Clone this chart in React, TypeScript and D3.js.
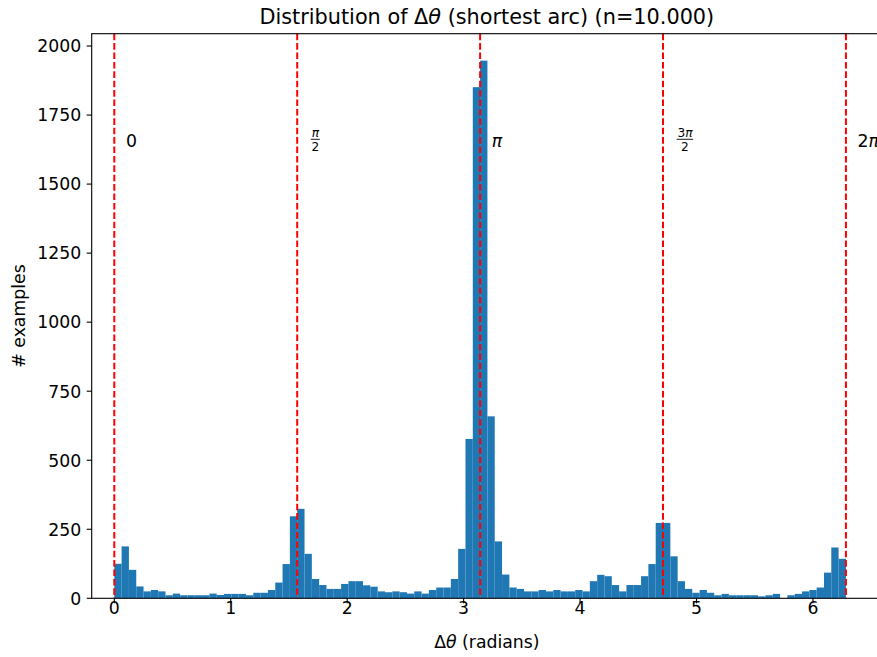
import React from "react";
import * as d3 from "d3";

const width = 877;
const height = 657;

// axes box in pixels (the right spine falls just outside the picture)
const axLeft = 91.7;
const axRight = 882;
const axTop = 33.7;
const axBottom = 598.3;

const font = "DejaVu Sans, sans-serif";
const tickSize = 17.3;
const titleSize = 20.8;
const barColor = "#1f77b4";
const lineColor = "red";

// histogram: 100 bins over [0, 2π]
const binStart = 0;
const binEnd = 2 * Math.PI;
const binCounts = [
  125, 188, 103, 43, 25, 30, 25, 11, 17, 11,
  11, 11, 11, 17, 12, 16, 16, 16, 11, 20,
  20, 30, 57, 124, 297, 324, 161, 70, 48, 34,
  34, 52, 62, 62, 47, 42, 25, 22, 25, 22,
  17, 25, 17, 30, 39, 39, 70, 179, 577, 1851,
  1947, 659, 206, 86, 39, 34, 25, 25, 30, 25,
  30, 25, 25, 30, 25, 62, 85, 80, 48, 25,
  48, 48, 80, 124, 273, 273, 152, 62, 34, 20,
  30, 20, 11, 16, 11, 11, 11, 11, 7, 11,
  16, 0, 11, 16, 25, 30, 39, 93, 184, 143,
];

const xDomain = [-0.194, 6.593];
const yDomain = [0, 2044.6];
const xTicks = [0, 1, 2, 3, 4, 5, 6];
const yTicks = [0, 250, 500, 750, 1000, 1250, 1500, 1750, 2000];

// dashed reference lines and their labels
const refLines = [0, Math.PI / 2, Math.PI, (3 * Math.PI) / 2, 2 * Math.PI];
type Part = [string, boolean]; // text, italic
type RefLabel = { main?: Part[]; num?: Part[]; den?: Part[] };
const refLabels: RefLabel[] = [
  { main: [["0", false]] },
  { num: [["π", true]], den: [["2", false]] },
  { main: [["π", true]] },
  { num: [["3", false], ["π", true]], den: [["2", false]] },
  { main: [["2", false], ["π", true]] },
];
const labelOffsetX = 0.1;
const labelY = 1655;

const title = "Distribution of ";
const titleEnd = " (shortest arc) (n=10.000)";
const xLabel = " (radians)";
const yLabel = "# examples";

const parts = (p: Part[]) =>
  p.map(([t, it], i) => (
    <tspan key={i} fontStyle={it ? "italic" : "normal"}>
      {t}
    </tspan>
  ));

const Label = ({ x, cy, label }: { x: number; cy: number; label: RefLabel }) => {
  if (label.main) {
    return (
      <text x={x} y={cy + 5.7} fontSize={tickSize} fontFamily={font} fill="black">
        {parts(label.main)}
      </text>
    );
  }
  const fs = tickSize * 0.7;
  const chars = Math.max(
    label.num!.reduce((s, p) => s + p[0].length, 0),
    label.den!.reduce((s, p) => s + p[0].length, 0)
  );
  const w = chars * fs * 0.62 + 1.5;
  const cx = x + 2 + w / 2;
  return (
    <g fontFamily={font} fontSize={fs} fill="black">
      <text x={cx} y={cy - 4.6} textAnchor="middle">
        {parts(label.num!)}
      </text>
      <line x1={cx - w / 2} x2={cx + w / 2} y1={cy - 2} y2={cy - 2} stroke="black" strokeWidth={0.9} />
      <text x={cx} y={cy + 9.4} textAnchor="middle">
        {parts(label.den!)}
      </text>
    </g>
  );
};

export default function App() {
  const xScale = d3.scaleLinear().domain(xDomain).range([axLeft, axRight]);
  const yScale = d3.scaleLinear().domain(yDomain).range([axBottom, axTop]);
  const binW = (binEnd - binStart) / binCounts.length;
  const cx = (axLeft + axRight) / 2;

  return (
    <svg
      width={width}
      height={height}
      style={{ position: "absolute", left: 0, top: 0, background: "white" }}
    >
      <defs>
        <clipPath id="ax">
          <rect x={axLeft} y={axTop} width={axRight - axLeft} height={axBottom - axTop} />
        </clipPath>
      </defs>

      <g clipPath="url(#ax)">
        {binCounts.map((c, i) => {
          const x0 = xScale(binStart + i * binW);
          const x1 = xScale(binStart + (i + 1) * binW);
          return (
            <rect
              key={i}
              x={x0}
              width={x1 - x0}
              y={yScale(c)}
              height={axBottom - yScale(c)}
              fill={barColor}
            />
          );
        })}
        {refLines.map((v, i) => (
          <line
            key={i}
            x1={xScale(v)}
            x2={xScale(v)}
            y1={axTop}
            y2={axBottom}
            stroke={lineColor}
            strokeWidth={2}
            strokeDasharray="6.6 2.8"
          />
        ))}
      </g>

      {refLines.map((v, i) => (
        <Label key={i} x={xScale(v + labelOffsetX)} cy={yScale(labelY)} label={refLabels[i]} />
      ))}

      {/* spines */}
      <rect
        x={axLeft}
        y={axTop}
        width={axRight - axLeft}
        height={axBottom - axTop}
        fill="none"
        stroke="black"
        strokeWidth={1.1}
      />

      {/* x ticks */}
      <g fontFamily={font} fontSize={tickSize} fill="black" textAnchor="middle">
        {xTicks.map((t) => (
          <g key={t} transform={`translate(${xScale(t)},0)`}>
            <line y1={axBottom} y2={axBottom + 5} stroke="black" strokeWidth={1.1} />
            <text y={614}>{t}</text>
          </g>
        ))}
      </g>

      {/* y ticks */}
      <g fontFamily={font} fontSize={tickSize} fill="black" textAnchor="end">
        {yTicks.map((t) => (
          <g key={t} transform={`translate(0,${yScale(t)})`}>
            <line x1={axLeft - 5} x2={axLeft} stroke="black" strokeWidth={1.1} />
            <text x={axLeft - 10.5} y={6.3}>
              {t}
            </text>
          </g>
        ))}
      </g>

      <text x={cx} y={23.5} textAnchor="middle" fontFamily={font} fontSize={titleSize} fill="black">
        {title}Δ<tspan fontStyle="italic">θ</tspan>
        {titleEnd}
      </text>
      <text x={cx} y={648} textAnchor="middle" fontFamily={font} fontSize={tickSize} fill="black">
        Δ<tspan fontStyle="italic">θ</tspan>
        {xLabel}
      </text>
      <text
        transform={`translate(24.5,${(axTop + axBottom) / 2}) rotate(-90)`}
        textAnchor="middle"
        fontFamily={font}
        fontSize={tickSize}
        fill="black"
      >
        {yLabel}
      </text>
    </svg>
  );
}
